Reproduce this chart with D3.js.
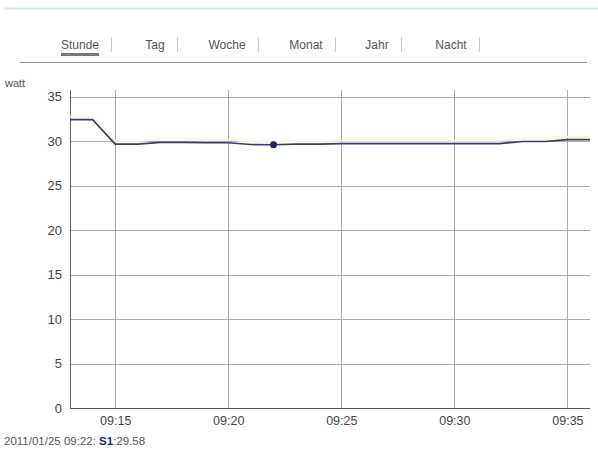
<!DOCTYPE html>
<html>
<head>
<meta charset="utf-8">
<script src="https://cdn.jsdelivr.net/npm/d3@7"></script>
<style>
  body { margin: 0; background: #fff; font-family: Arial, "Liberation Sans", sans-serif; }
</style>
</head>
<body>
<div id="chart"></div>
<script>
// tabs across the top
const tabs = ["Stunde", "Tag", "Woche", "Monat", "Jahr", "Nacht"];
const tabX = [80, 155, 227, 306, 377, 451];

// minute-by-minute readings (09:13 .. 09:36)
const times = ["09:13", "09:14", "09:15", "09:16", "09:17", "09:18", "09:19", "09:20",
  "09:21", "09:22", "09:23", "09:24", "09:25", "09:26", "09:27", "09:28",
  "09:29", "09:30", "09:31", "09:32", "09:33", "09:34", "09:35", "09:36"];
const watts = [32.4, 32.4, 29.65, 29.65, 29.85, 29.85, 29.8, 29.8,
  29.6, 29.58, 29.65, 29.65, 29.7, 29.7, 29.7, 29.7,
  29.7, 29.7, 29.7, 29.7, 29.95, 29.95, 30.15, 30.15];

const yTicks = [0, 5, 10, 15, 20, 25, 30, 35];
const xTicks = ["09:15", "09:20", "09:25", "09:30", "09:35"];
const selected = { time: "09:22", value: 29.58, date: "2011/01/25", series: "S1" };

(function() {
  const width = 598, height = 450;
  const parse = d3.timeParse("%H:%M");
  const data = times.map((t, i) => ({ t: parse(t), v: watts[i] }));

  const svg = d3.select("#chart").append("svg")
    .attr("width", width)
    .attr("height", height);

  // thin header line
  svg.append("line")
    .attr("x1", 4).attr("x2", width).attr("y1", 8.5).attr("y2", 8.5)
    .attr("stroke", "#d6ecea").attr("stroke-width", 2);

  // tab bar
  const tabG = svg.append("g");
  tabs.forEach((name, i) => {
    const t = tabG.append("text")
      .attr("x", tabX[i]).attr("y", 49)
      .attr("text-anchor", "middle")
      .attr("font-size", 12)
      .attr("fill", "#555")
      .text(name);
    const w = t.node().getComputedTextLength();
    tabG.append("line")
      .attr("x1", Math.round(tabX[i] + w / 2 + 12) + 0.5)
      .attr("x2", Math.round(tabX[i] + w / 2 + 12) + 0.5)
      .attr("y1", 37).attr("y2", 52)
      .attr("stroke", "#ccc");
    if (i === 0) {
      tabG.append("line")
        .attr("x1", tabX[i] - w / 2).attr("x2", tabX[i] + w / 2)
        .attr("y1", 54.5).attr("y2", 54.5)
        .attr("stroke", "#777").attr("stroke-width", 3);
    }
  });
  tabG.append("line")
    .attr("x1", 20).attr("x2", 587).attr("y1", 62.5).attr("y2", 62.5)
    .attr("stroke", "#999");

  // plot area
  const left = 70, right = 590, plotTop = 90, bottom = 408;
  const x = d3.scaleTime()
    .domain([parse("09:13"), parse("09:36")])
    .range([left, right]);
  const y = d3.scaleLinear()
    .domain([0, 35])
    .range([bottom, 96.5]);

  // grid
  svg.append("g")
    .selectAll("line")
    .data(yTicks)
    .join("line")
    .attr("x1", left).attr("x2", right)
    .attr("y1", d => Math.round(y(d)) + 0.5).attr("y2", d => Math.round(y(d)) + 0.5)
    .attr("stroke", "#aaa");
  svg.append("g")
    .selectAll("line")
    .data(xTicks)
    .join("line")
    .attr("x1", d => Math.round(x(parse(d))) + 0.5).attr("x2", d => Math.round(x(parse(d))) + 0.5)
    .attr("y1", plotTop).attr("y2", bottom)
    .attr("stroke", "#aaa");

  // axes
  const yAxis = svg.append("g")
    .attr("transform", `translate(${left},0)`)
    .call(d3.axisLeft(y).tickValues(yTicks).tickSize(0).tickPadding(8));
  yAxis.select(".domain").remove();
  yAxis.selectAll("text").attr("font-size", 13).attr("fill", "#444")
    .attr("font-family", "Arial, 'Liberation Sans', sans-serif");
  svg.append("line")
    .attr("x1", left + 0.5).attr("x2", left + 0.5).attr("y1", plotTop).attr("y2", bottom)
    .attr("stroke", "#666");

  const xAxis = svg.append("g")
    .attr("transform", `translate(0,${bottom})`)
    .call(d3.axisBottom(x).tickValues(xTicks.map(parse)).tickFormat(d3.timeFormat("%H:%M"))
      .tickSize(0).tickPadding(8));
  xAxis.select(".domain").remove();
  xAxis.selectAll("text").attr("font-size", 12.5).attr("fill", "#444")
    .attr("font-family", "Arial, 'Liberation Sans', sans-serif");
  svg.append("line")
    .attr("x1", left).attr("x2", right).attr("y1", bottom + 0.5).attr("y2", bottom + 0.5)
    .attr("stroke", "#555");

  svg.append("text")
    .attr("x", 5).attr("y", 87)
    .attr("font-size", 11).attr("fill", "#555")
    .text("watt");

  // series with a faint yellow glow
  const line = d3.line().x(d => x(d.t)).y(d => y(d.v));
  svg.append("path")
    .datum(data)
    .attr("fill", "none")
    .attr("stroke", "#f9f6d8")
    .attr("stroke-width", 2)
    .attr("transform", "translate(0,-3)")
    .attr("d", line);
  svg.append("path")
    .datum(data)
    .attr("fill", "none")
    .attr("stroke", "#3b3b72")
    .attr("stroke-width", 1.6)
    .attr("d", line);

  svg.append("circle")
    .attr("cx", x(parse(selected.time)))
    .attr("cy", y(selected.value))
    .attr("r", 3.5)
    .attr("fill", "#1a2a66");

  // readout below
  const info = svg.append("text")
    .attr("x", 4).attr("y", 445)
    .attr("font-size", 11.5).attr("fill", "#555");
  info.append("tspan").text(`${selected.date} ${selected.time}: `);
  info.append("tspan").attr("font-weight", "bold").attr("fill", "#1a2a66").text(selected.series);
  info.append("tspan").text(":" + selected.value);
})();
</script>
</body>
</html>
